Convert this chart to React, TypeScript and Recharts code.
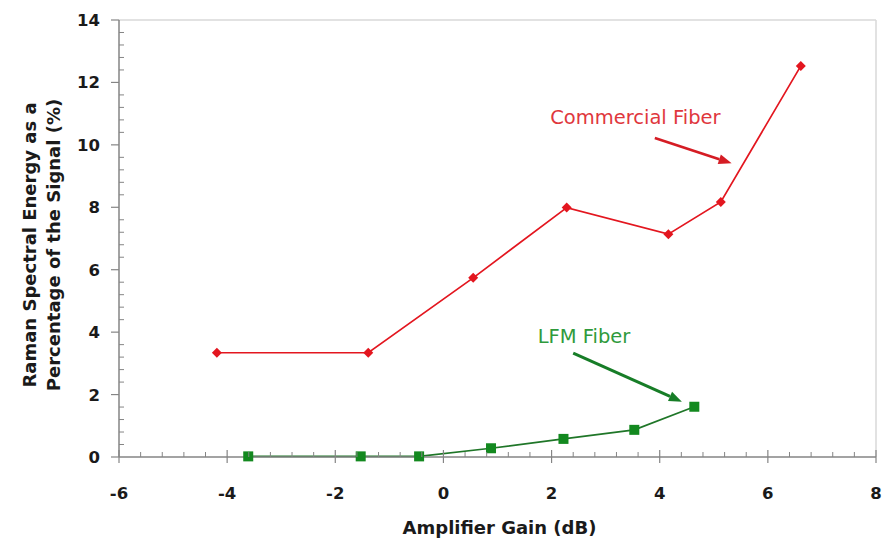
import React from "react";
import {
  LineChart,
  Line,
  XAxis,
  YAxis,
  ReferenceLine,
  ReferenceDot,
} from "recharts";

// values
const commercialGain = [-4.19, -1.39, 0.55, 2.28, 4.16, 5.13, 6.61];
const commercialRaman = [3.34, 3.34, 5.74, 7.99, 7.14, 8.17, 12.53];
const lfmGain = [-3.61, -1.53, -0.45, 0.88, 2.22, 3.53, 4.64];
const lfmRaman = [0.02, 0.02, 0.02, 0.28, 0.58, 0.87, 1.61];

const xMajorTicks = [-6, -4, -2, 0, 2, 4, 6, 8];
const yMajorTicks = [0, 2, 4, 6, 8, 10, 12, 14];
const minorSteps = 5;

const xTitle = "Amplifier Gain (dB)";
const yTitleLines = ["Raman Spectral Energy as a", "Percentage of the Signal (%)"];
const commercialName = "Commercial Fiber";
const lfmName = "LFM Fiber";

const FONT = "'DejaVu Sans', sans-serif";
const AXIS = "#858585";
const RED = "#e3161f";
const GREEN = "#13891f";

const commercialData = commercialGain.map((x, i) => ({ x, y: commercialRaman[i] }));
const lfmData = lfmGain.map((x, i) => ({ x, y: lfmRaman[i] }));

function withMinor(majors: number[]) {
  const out: number[] = [];
  majors.forEach((m, i) => {
    out.push(m);
    const next = majors[i + 1];
    if (next === undefined) return;
    for (let k = 1; k < minorSteps; k++) {
      out.push(Number((m + ((next - m) * k) / minorSteps).toFixed(4)));
    }
  });
  return out;
}

function XTick(props: any) {
  const { x, y, payload } = props;
  if (!xMajorTicks.includes(payload.value)) {
    return <line x1={x} y1={y - 5} x2={x} y2={y} stroke={AXIS} strokeWidth={1} />;
  }
  return (
    <g>
      <line x1={x} y1={y - 7} x2={x} y2={y + 6} stroke={AXIS} strokeWidth={1.2} />
      <text x={x} y={y + 42} textAnchor="middle" fontFamily={FONT} fontWeight="bold" fontSize={16.5} fill="#1a1a1a">
        {payload.value}
      </text>
    </g>
  );
}

function YTick(props: any) {
  const { x, y, payload } = props;
  if (!yMajorTicks.includes(payload.value)) {
    return <line x1={x} y1={y} x2={x + 5} y2={y} stroke={AXIS} strokeWidth={1} />;
  }
  return (
    <g>
      <line x1={x - 8} y1={y} x2={x} y2={y} stroke={AXIS} strokeWidth={1.2} />
      <text x={x - 19} y={y + 6} textAnchor="end" fontFamily={FONT} fontWeight="bold" fontSize={16.5} fill="#1a1a1a">
        {payload.value}
      </text>
    </g>
  );
}

function XTitle(props: any) {
  const vb = props.viewBox;
  return (
    <text x={vb.x + vb.width / 2 + 2} y={vb.y + 77} textAnchor="middle" fontFamily={FONT} fontWeight="bold" fontSize={18} fill="#1a1a1a">
      {xTitle}
    </text>
  );
}

function YTitle(props: any) {
  const vb = props.viewBox;
  const cx = vb.x + 17;
  const cy = vb.y + vb.height / 2 + 6.5;
  return (
    <g transform={`translate(${cx},${cy}) rotate(-90)`}>
      {yTitleLines.map((t, i) => (
        <text key={t} x={0} y={i * 23.5} textAnchor="middle" fontFamily={FONT} fontWeight="bold" fontSize={18} fill="#1a1a1a">
          {t}
        </text>
      ))}
    </g>
  );
}

function Diamond(props: any) {
  const { cx, cy } = props;
  if (cx == null || cy == null) return null;
  const r = 5;
  return <polygon points={`${cx},${cy - r} ${cx + r},${cy} ${cx},${cy + r} ${cx - r},${cy}`} fill={RED} />;
}

function Square(props: any) {
  const { cx, cy } = props;
  if (cx == null || cy == null) return null;
  const s = 10;
  return <rect x={cx - s / 2} y={cy - s / 2} width={s} height={s} fill={GREEN} />;
}

function arrowShape(color: string, width: number) {
  return (p: any) => {
    const { x1, y1, x2, y2 } = p;
    const ang = Math.atan2(y2 - y1, x2 - x1);
    const len = 13;
    const half = 5;
    const bx = x2 - len * Math.cos(ang);
    const by = y2 - len * Math.sin(ang);
    const nx = -Math.sin(ang) * half;
    const ny = Math.cos(ang) * half;
    return (
      <g>
        <line x1={x1} y1={y1} x2={bx} y2={by} stroke={color} strokeWidth={width} />
        <polygon points={`${x2},${y2} ${bx + nx},${by + ny} ${bx - nx},${by - ny}`} fill={color} />
      </g>
    );
  };
}

function labelShape(text: string, color: string) {
  return (p: any) => (
    <text x={p.cx} y={p.cy} textAnchor="middle" fontFamily={FONT} fontSize={19.5} fill={color}>
      {text}
    </text>
  );
}

export default function App() {
  return (
    <div style={{ position: "absolute", left: 0, top: 0, width: 892, height: 538, background: "#fff", fontFamily: FONT }}>
      <LineChart width={892} height={538} margin={{ top: 20, right: 16, bottom: 21, left: 19 }}>
        <XAxis
          type="number"
          dataKey="x"
          domain={[-6, 8]}
          ticks={withMinor(xMajorTicks)}
          interval={0}
          tick={<XTick />}
          tickLine={false}
          tickSize={0}
          tickMargin={0}
          height={60}
          axisLine={{ stroke: AXIS, strokeWidth: 1.5 }}
          label={{ content: (p: any) => <XTitle {...p} /> }}
        />
        <YAxis
          type="number"
          dataKey="y"
          domain={[0, 14]}
          ticks={withMinor(yMajorTicks)}
          interval={0}
          tick={<YTick />}
          tickLine={false}
          tickSize={0}
          tickMargin={0}
          width={100}
          axisLine={{ stroke: AXIS, strokeWidth: 1.5 }}
          label={{ content: (p: any) => <YTitle {...p} /> }}
        />
        <ReferenceLine y={14} stroke="#d9d9d9" strokeWidth={1.5} />
        <ReferenceLine x={8} stroke="#d9d9d9" strokeWidth={1.5} />
        <Line
          data={commercialData}
          dataKey="y"
          type="linear"
          stroke={RED}
          strokeWidth={1.7}
          dot={<Diamond />}
          activeDot={false}
          isAnimationActive={false}
        />
        <Line
          data={lfmData}
          dataKey="y"
          type="linear"
          stroke="#1f7628"
          strokeWidth={1.7}
          dot={<Square />}
          activeDot={false}
          isAnimationActive={false}
        />
        <ReferenceLine
          segment={[{ x: 3.91, y: 10.22 }, { x: 5.33, y: 9.41 }]}
          shape={arrowShape("#d51c24", 2.6)}
        />
        <ReferenceLine
          segment={[{ x: 2.4, y: 3.33 }, { x: 4.41, y: 1.77 }]}
          shape={arrowShape("#177d27", 3)}
        />
        <ReferenceDot x={3.55} y={10.67} r={0} shape={labelShape(commercialName, "#e0373d")} />
        <ReferenceDot x={2.6} y={3.65} r={0} shape={labelShape(lfmName, "#2f9a3c")} />
      </LineChart>
    </div>
  );
}
